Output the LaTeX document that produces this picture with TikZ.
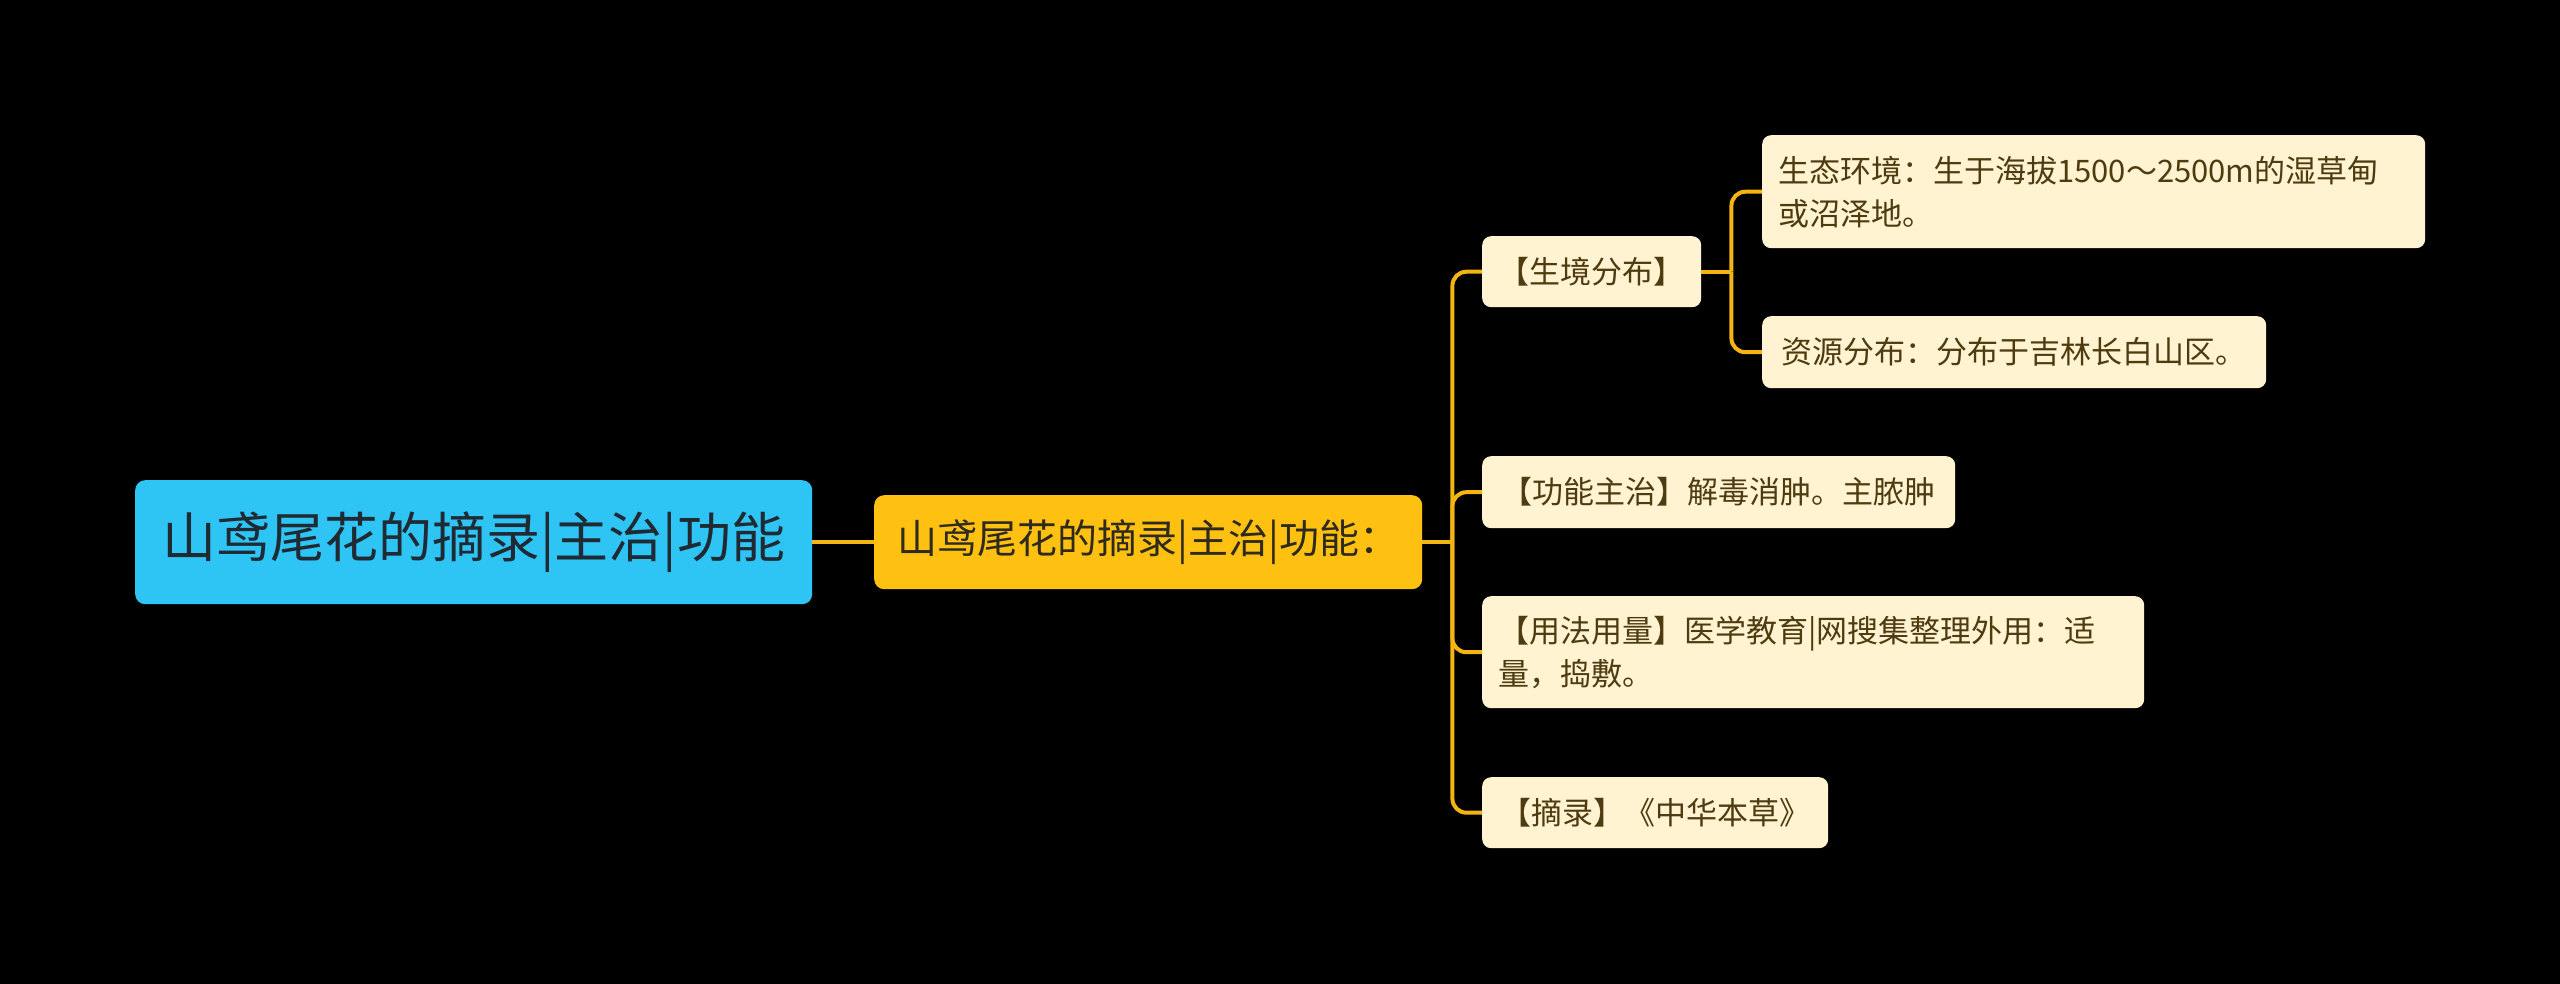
\documentclass[tikz,border=0pt]{standalone}
\usepackage{fontspec}
\setmainfont{Noto Sans CJK SC}
\usetikzlibrary{calc}
\definecolor{rootfill}{HTML}{2EC4F4}
\definecolor{roottext}{HTML}{1F2A33}
\definecolor{midfill}{HTML}{FFC111}
\definecolor{midtext}{HTML}{2E2A1E}
\definecolor{leaffill}{HTML}{FFF3D2}
\definecolor{leaftext}{HTML}{4E3B10}
\definecolor{linkcol}{HTML}{F2B511}
\tikzset{
  rootbox/.style={fill=rootfill, text=roottext, rounded corners=10pt, anchor=north west,
    inner sep=0pt, font=\fontsize{54}{60}\selectfont},
  midbox/.style={fill=midfill, text=midtext, rounded corners=10pt, anchor=north west,
    inner sep=0pt, font=\fontsize{40}{46}\selectfont},
  leafbox/.style={fill=leaffill, text=leaftext, rounded corners=9pt, anchor=north west,
    inner sep=0pt, font=\fontsize{31}{43}\selectfont},
  leafwrap/.style={leafbox, inner xsep=16pt, align=left},
  link/.style={draw=linkcol, line width=4pt},
  branch/.style={link, rounded corners=14pt},
}
\begin{document}
\begin{tikzpicture}[x=1pt,y=-1pt]
\fill[black] (0,0) rectangle (2560,984);
\useasboundingbox (0,0) rectangle (2560,984);

\node[rootbox, minimum width=677pt, minimum height=124pt] (root) at (135,480) {山鸢尾花的摘录|主治|功能};
\node[midbox, minimum width=548pt, minimum height=94pt] (mid) at (874,495) {山鸢尾花的摘录|主治|功能：};

\node[leafbox, minimum width=219pt, minimum height=71pt] (hab) at (1482,236) {【生境分布】};
\node[leafwrap, text width=631pt, minimum height=113pt] (eco) at (1762,135) {生态环境：生于海拔1500～2500m的湿草甸\\或沼泽地。};
\node[leafbox, minimum width=504pt, minimum height=72pt] (res) at (1762,316) {资源分布：分布于吉林长白山区。};

\node[leafbox, minimum width=473pt, minimum height=72pt] (func) at (1482,456) {【功能主治】解毒消肿。主脓肿};
\node[leafwrap, text width=630pt, minimum height=112pt] (usage) at (1482,596) {【用法用量】医学教育|网搜集整理外用：适\\量，捣敷。};
\node[leafbox, minimum width=346pt, minimum height=71pt] (src) at (1482,777) {【摘录】《中华本草》};

\coordinate (trunk) at ($(mid.east)+(30,0)$);
\coordinate (fork) at ($(hab.east)+(30,0)$);

\draw[link] (root.east) -- (mid.west);
\draw[link] (mid.east) -- (trunk);
\draw[branch] (trunk) |- (hab.west);
\draw[branch] (trunk) |- (func.west);
\draw[branch] (trunk) |- (usage.west);
\draw[branch] (trunk) |- (src.west);

\draw[link] (hab.east) -- (fork);
\draw[branch] (fork) |- (eco.west);
\draw[branch] (fork) |- (res.west);
\end{tikzpicture}
\end{document}
